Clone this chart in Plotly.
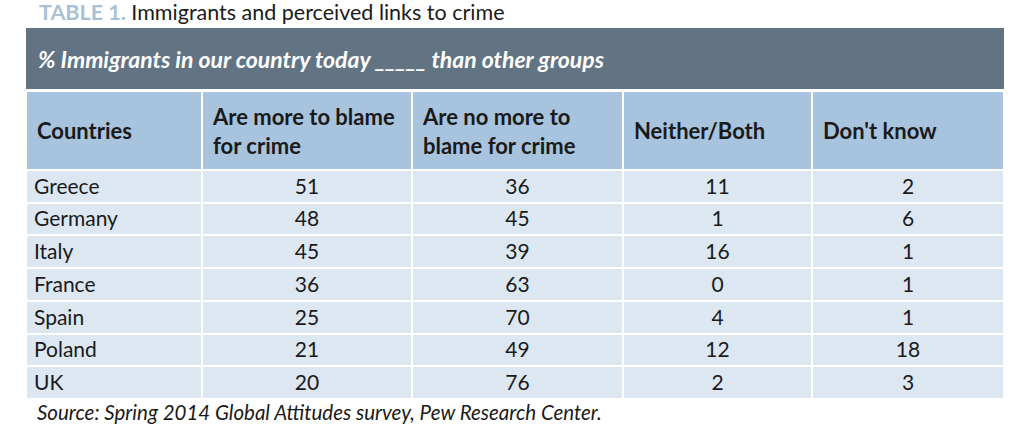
import plotly.graph_objects as go

W, H = 1023, 448

countries = ["Greece", "Germany", "Italy", "France", "Spain", "Poland", "UK"]
more_blame = [51, 48, 45, 36, 25, 21, 20]
no_more_blame = [36, 45, 39, 63, 70, 49, 76]
neither_both = [11, 1, 16, 0, 4, 12, 2]
dont_know = [2, 6, 1, 1, 1, 18, 3]
headers = ["Countries", "Are more to blame<br>for crime", "Are no more to<br>blame for crime",
           "Neither/Both", "Don't know"]

FONT = "Lato"
DARK = "#627384"
HEAD = "#a7c3dd"
ROW = "#dce7f2"
TXT = "#1a1a1a"
COLW = [176, 210, 211, 189, 192]


def px(x):
    return x / W


def py(y):
    return 1 - y / H


fig = go.Figure()
fig.add_trace(go.Table(
    domain=dict(x=[px(26), px(1004)], y=[py(402), py(91)]),
    columnwidth=COLW,
    header=dict(values=[""] * len(headers), fill_color=HEAD,
                line=dict(color="white", width=2), height=79),
    cells=dict(values=[countries, more_blame, no_more_blame, neither_both, dont_know],
               fill_color=ROW, line=dict(color="white", width=2),
               align=["left", "center", "center", "center", "center"], height=32.7,
               font=dict(family=FONT, size=21, color=TXT)),
))

# header labels: two-line ones sit higher than single-line ones (vertically centred look)
two_line = ["<b>%s</b>" % h if "<br>" in h else "" for h in headers]
one_line = ["<b>%s</b>" % h if "<br>" not in h else "" for h in headers]
for vals, top in [(two_line, 95), (one_line, 109)]:
    fig.add_trace(go.Table(
        domain=dict(x=[px(29), px(1007)], y=[py(170), py(top)]),
        columnwidth=COLW,
        header=dict(values=vals, fill_color="rgba(0,0,0,0)",
                    line=dict(color="rgba(0,0,0,0)", width=0), align="left", height=40,
                    font=dict(family=FONT, size=22, color=TXT)),
        cells=dict(values=[[] for _ in headers]),
    ))

# dark band spanning all columns
fig.add_shape(type="rect", xref="paper", yref="paper",
              x0=px(26), x1=px(1004), y0=py(89), y1=py(28),
              fillcolor=DARK, line=dict(width=0), layer="below")
fig.add_annotation(xref="paper", yref="paper", x=px(36), y=py(59), xanchor="left", yanchor="middle",
                   text="<b><i>% Immigrants in our country today _____ than other groups</i></b>",
                   showarrow=False, font=dict(family=FONT, size=23, color="white"))

fig.add_annotation(xref="paper", yref="paper", x=px(37), y=py(12), xanchor="left", yanchor="middle",
                   text="<b><span style='color:#a9c1d6'>TABLE 1.</span></b> Immigrants and perceived links to crime",
                   showarrow=False, font=dict(family=FONT, size=21.5, color=TXT))
fig.add_annotation(xref="paper", yref="paper", x=px(35), y=py(412), xanchor="left", yanchor="middle",
                   text="<i>Source: Spring 2014 Global Attitudes survey, Pew Research Center.</i>",
                   showarrow=False, font=dict(family=FONT, size=20.5, color=TXT))

fig.update_layout(width=W, height=H, margin=dict(l=0, r=0, t=0, b=0),
                  paper_bgcolor="white", plot_bgcolor="white")
# drop the default 8px page margin so the figure fills the window exactly
fig.write_html("out.html", config={"displayModeBar": False},
               post_script="document.body.style.margin='0';")
